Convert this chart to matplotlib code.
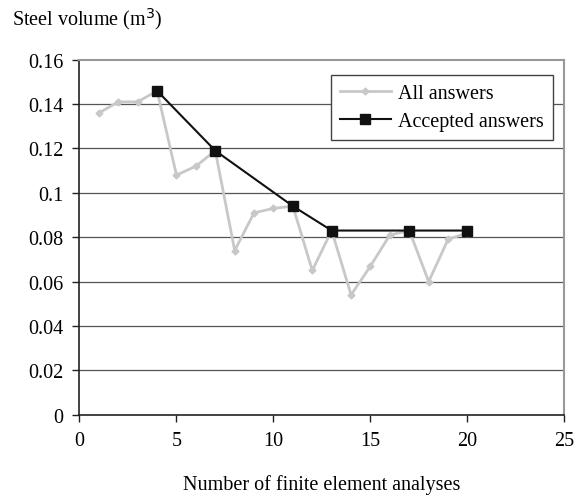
import matplotlib
matplotlib.use("Agg")
import matplotlib.pyplot as plt

# Data
analyses = list(range(1, 21))
all_answers = [0.136, 0.141, 0.141, 0.146, 0.108, 0.112, 0.119, 0.074, 0.091, 0.093,
               0.094, 0.065, 0.083, 0.054, 0.067, 0.081, 0.083, 0.060, 0.079, 0.082]
accepted_x = [4, 7, 11, 13, 17, 20]
accepted_y = [0.146, 0.119, 0.094, 0.083, 0.083, 0.083]

x_ticks = [0, 5, 10, 15, 20, 25]
y_ticks = [0, 0.02, 0.04, 0.06, 0.08, 0.1, 0.12, 0.14, 0.16]
y_tick_labels = ["0", "0.02", "0.04", "0.06", "0.08", "0.1", "0.12", "0.14", "0.16"]

plt.rcParams['font.family'] = ['Liberation Serif', 'DejaVu Serif']
fs = 14.5

fig = plt.figure(figsize=(5.76, 5.02), dpi=100)
ax = fig.add_axes([0.138, 0.172, 0.842, 0.707])

# horizontal gridlines
for yv in y_ticks[1:-1]:
    ax.axhline(yv, color='#555555', linewidth=0.9, zorder=1)

ax.plot(analyses, all_answers, color='#c8c8c8', linewidth=2.0, marker='D',
        markersize=3.5, markerfacecolor='#c8c8c8', markeredgecolor='#c8c8c8',
        label='All answers', zorder=2)
ax.plot(accepted_x, accepted_y, color='#111111', linewidth=1.5, marker='s',
        markersize=7, markerfacecolor='#111111', markeredgecolor='#111111',
        label='Accepted answers', zorder=3)

ax.set_xlim(0, 25)
ax.set_ylim(0, 0.16)
ax.set_xticks(x_ticks)
ax.set_yticks(y_ticks)
ax.set_yticklabels(y_tick_labels)
ax.tick_params(axis='both', direction='out', length=5, width=1, labelsize=fs, color='#222222')
ax.tick_params(axis='y', pad=6.5)
ax.tick_params(axis='x', pad=7)

for side in ['left', 'bottom']:
    ax.spines[side].set_color('#222222')
    ax.spines[side].set_linewidth(1.2)
for side in ['top', 'right']:
    ax.spines[side].set_color('#999999')
    ax.spines[side].set_linewidth(1.5)

leg = ax.legend(loc='upper right', bbox_to_anchor=(553 / 576, 1 - 76 / 502),
                bbox_transform=fig.transFigure, borderaxespad=0, fontsize=fs,
                fancybox=False, framealpha=1, edgecolor='#444444',
                handlelength=2.55, handletextpad=0.35, labelspacing=0.45,
                borderpad=0.45)
leg.get_frame().set_linewidth(1.0)

fig.text(12 / 576, 1 - 19 / 502, 'Steel volume (m$^3$)', fontsize=fs,
         ha='left', va='center')
fig.text((79 + 564) / 2 / 576, 1 - 485 / 502, 'Number of finite element analyses',
         fontsize=fs, ha='center', va='center')

fig.savefig('out.png', dpi=100)
